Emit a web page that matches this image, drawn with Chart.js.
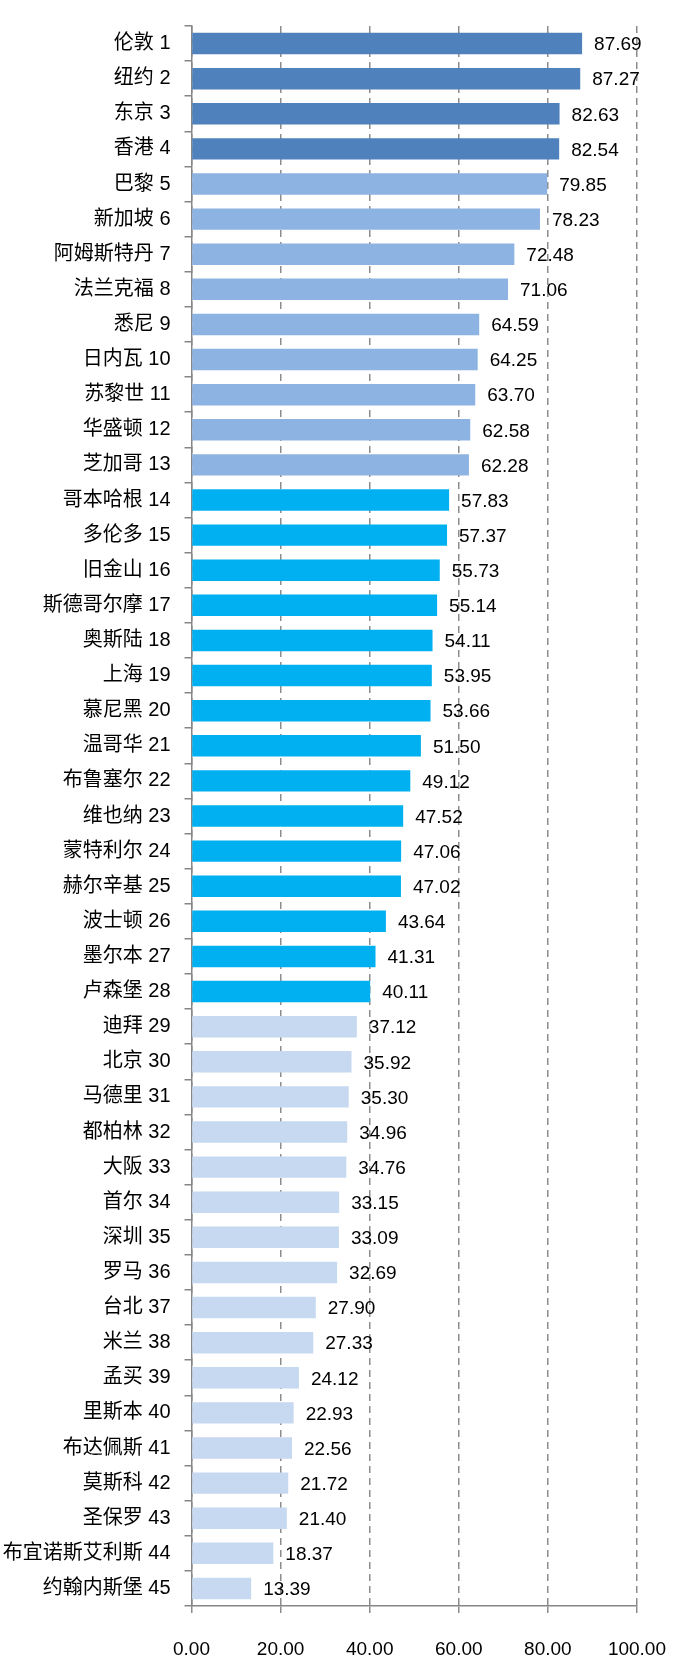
<!DOCTYPE html>
<html>
<head>
<meta charset="utf-8">
<script src="https://cdn.jsdelivr.net/npm/chart.js@4/dist/chart.umd.min.js"></script>
<style>
  body { margin: 0; background: #fff; }
  #wrap { width: 691px; height: 1658px; position: relative; }
</style>
</head>
<body>
<div id="wrap"><canvas id="cityChart"></canvas></div>
<script>
var cities = ['伦敦', '纽约', '东京', '香港', '巴黎', '新加坡', '阿姆斯特丹', '法兰克福', '悉尼', '日内瓦',
  '苏黎世', '华盛顿', '芝加哥', '哥本哈根', '多伦多', '旧金山', '斯德哥尔摩', '奥斯陆', '上海', '慕尼黑',
  '温哥华', '布鲁塞尔', '维也纳', '蒙特利尔', '赫尔辛基', '波士顿', '墨尔本', '卢森堡', '迪拜', '北京',
  '马德里', '都柏林', '大阪', '首尔', '深圳', '罗马', '台北', '米兰', '孟买', '里斯本',
  '布达佩斯', '莫斯科', '圣保罗', '布宜诺斯艾利斯', '约翰内斯堡'];

var scores = [87.69, 87.27, 82.63, 82.54, 79.85, 78.23, 72.48, 71.06, 64.59, 64.25,
  63.70, 62.58, 62.28, 57.83, 57.37, 55.73, 55.14, 54.11, 53.95, 53.66,
  51.50, 49.12, 47.52, 47.06, 47.02, 43.64, 41.31, 40.11, 37.12, 35.92,
  35.30, 34.96, 34.76, 33.15, 33.09, 32.69, 27.90, 27.33, 24.12, 22.93,
  22.56, 21.72, 21.40, 18.37, 13.39];

// number of cities in each colour group: 1-4, 5-13, 14-28, 29-45
var tierSizes = [4, 9, 15, 17];
var tierColors = ['#4F81BD', '#8DB3E2', '#00B0F0', '#C6D9F1'];

var xTicks = [0, 20, 40, 60, 80, 100];

var labelFont = '"Liberation Sans", "Noto Sans CJK SC", sans-serif';

var labels = [];
for (var i = 0; i < cities.length; i++) {
  labels.push(cities[i] + ' ' + (i + 1));
}

var colors = [];
for (var t = 0; t < tierSizes.length; t++) {
  for (var k = 0; k < tierSizes[t]; k++) {
    colors.push(tierColors[t]);
  }
}

// value text to the right of each bar
var barLabels = {
  id: 'barLabels',
  afterDatasetsDraw: function(chart) {
    var ctx = chart.ctx;
    var meta = chart.getDatasetMeta(0);
    ctx.save();
    ctx.font = '19px ' + labelFont;
    ctx.fillStyle = '#000';
    ctx.textBaseline = 'middle';
    ctx.textAlign = 'left';
    meta.data.forEach(function(bar, i) {
      ctx.fillText(scores[i].toFixed(2), bar.x + 12, bar.y + 1.5);
    });
    ctx.restore();
  }
};

var ctx = document.getElementById('cityChart').getContext('2d');

var chart = new Chart(ctx, {
  type: 'bar',
  data: {
    labels: labels,
    datasets: [{
      data: scores,
      backgroundColor: colors,
      borderWidth: 0,
      categoryPercentage: 1,
      barPercentage: 0.61
    }]
  },
  options: {
    indexAxis: 'y',
    responsive: true,
    maintainAspectRatio: false,
    animation: false,
    layout: { padding: { top: 13, right: 28.5, left: 0, bottom: 0 } },
    plugins: {
      legend: { display: false },
      tooltip: { enabled: false }
    },
    scales: {
      x: {
        min: 0,
        max: 100,
        afterBuildTicks: function(scale) {
          scale.ticks = xTicks.map(function(v) { return { value: v }; });
        },
        afterFit: function(scale) { scale.height = 52; },
        ticks: {
          padding: 25,
          color: '#000',
          font: { size: 19, family: labelFont },
          callback: function(v) { return Number(v).toFixed(2); }
        },
        grid: {
          color: '#8c8c8c',
          lineWidth: 1.5,
          tickBorderDash: [7, 5],
          tickLength: 7
        },
        border: { color: '#868686', width: 1.5, dash: [7, 5] }
      },
      y: {
        afterFit: function(scale) { scale.width = 191.5; },
        ticks: {
          padding: 14,
          color: '#000',
          font: { size: 20, family: labelFont },
          autoSkip: false
        },
        grid: {
          drawOnChartArea: false,
          color: '#868686',
          tickLength: 7,
          lineWidth: 1.5
        },
        border: { color: '#868686', width: 1.5 }
      }
    }
  },
  plugins: [barLabels]
});
</script>
</body>
</html>
